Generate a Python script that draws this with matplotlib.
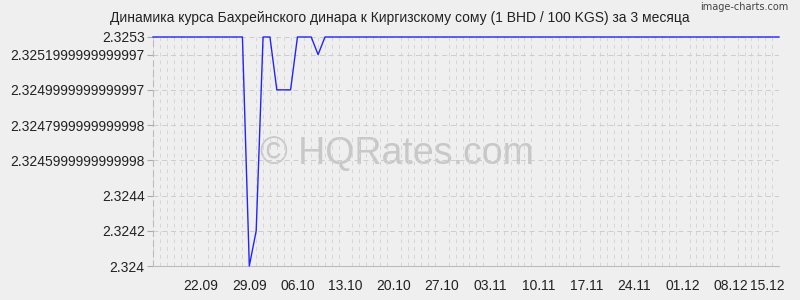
import pandas as pd
import matplotlib
matplotlib.use("Agg")
import matplotlib.pyplot as plt
import matplotlib.transforms as mtransforms
from matplotlib.ticker import FixedLocator, MultipleLocator

plt.rcParams["font.family"] = ["Liberation Sans", "DejaVu Sans"]

title = "Динамика курса Бахрейнского динара к Киргизскому сому (1 BHD / 100 KGS) за 3 месяца"

dates = pd.date_range("2024-09-15", "2024-12-15", freq="D")
rates = (
    [2.3253] * 14
    + [2.3240, 2.3242, 2.3253, 2.3253, 2.3250, 2.3250, 2.3250,
       2.3253, 2.3253, 2.3253, 2.3252]
    + [2.3253] * 67
)

ytick_vals = [2.324, 2.3242, 2.3244, 2.3246, 2.3248, 2.325, 2.3252, 2.3253]
ytick_labels = ["2.324", "2.3242", "2.3244", "2.3245999999999998",
                "2.3247999999999998", "2.3249999999999997",
                "2.3251999999999997", "2.3253"]
xtick_labels = ["22.09", "29.09", "06.10", "13.10", "20.10", "27.10", "03.11",
                "10.11", "17.11", "24.11", "01.12", "08.12", "15.12"]

bg = "#efefef"
fig = plt.figure(figsize=(8, 3), dpi=100, facecolor=bg)
ax = fig.add_axes((0.19125, 0.1133, 0.7825, 0.7634), facecolor=bg)

x = list(range(len(dates)))
ax.plot(x, rates, color="#2323ff", linewidth=1, clip_on=False, zorder=3)

ax.set_xlim(0, len(dates) - 1)
ax.set_ylim(2.324, 2.3253)

# weekly labels, daily grid
xt = [dates.get_loc(pd.Timestamp(d)) for d in
      pd.to_datetime(xtick_labels, format="%d.%m").map(lambda t: t.replace(year=2024))]
ax.xaxis.set_major_locator(FixedLocator(xt))
ax.set_xticklabels(xtick_labels)
ax.xaxis.set_minor_locator(MultipleLocator(1))
ax.tick_params(axis="x", which="both", length=0, pad=9, labelsize=10, colors="#222222")
last = ax.get_xticklabels()[-1]
last.set_transform(last.get_transform() +
                   mtransforms.ScaledTranslation(-12 / 100, 0, fig.dpi_scale_trans))

ax.set_yticks(ytick_vals)
ax.set_yticklabels(ytick_labels)
ax.tick_params(axis="y", length=4, width=0.8, color="#aaaaaa", pad=2,
               labelsize=10, labelcolor="#222222")

ax.grid(axis="x", which="minor", color="#d6d6d6", linestyle=(0, (4, 4)), linewidth=0.7)
ax.grid(axis="y", which="major", color="#cccccc", linestyle=(0, (5, 4)), linewidth=0.7)

for s in ["top", "right"]:
    ax.spines[s].set_visible(False)
ax.spines["left"].set_color("#bbbbbb")
ax.spines["left"].set_linestyle((0, (5, 4)))
ax.spines["left"].set_linewidth(0.8)
ax.spines["bottom"].set_color("#bbbbbb")
ax.spines["bottom"].set_linewidth(0.8)

ax.text(0.39, 0.49, "© HQRates.com", transform=ax.transAxes, ha="center", va="center",
        fontsize=27, color="#c8c8c8", zorder=1)

fig.text(0.5, 0.94, title, ha="center", va="center", fontsize=10, color="#222222")
fig.text(0.985, 0.975, "image-charts.com", ha="right", va="center", fontsize=7,
         color="#444444", family=["DejaVu Sans Condensed", "DejaVu Sans"])

fig.savefig("out.png", dpi=100, facecolor=bg)
